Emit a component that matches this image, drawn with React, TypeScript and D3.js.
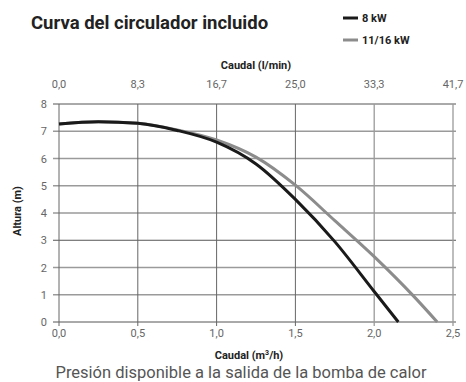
import * as d3 from "d3";

// flow in m³/h and head in m
const flow8 = [0, 0.25, 0.5, 0.75, 1.0, 1.25, 1.5, 1.75, 2.0, 2.153];
const head8 = [7.27, 7.35, 7.29, 7.03, 6.6, 5.8, 4.5, 2.95, 1.12, 0];

const flow16 = [0, 0.25, 0.5, 0.75, 1.0, 1.25, 1.5, 1.75, 2.0, 2.25, 2.4];
const head16 = [7.27, 7.35, 7.29, 7.05, 6.68, 6.05, 5.02, 3.72, 2.4, 0.95, 0];

const xTicks = [0, 0.5, 1.0, 1.5, 2.0, 2.5];
const topTicks = [0, 8.333, 16.667, 25, 33.333, 41.667];
const yTicks = [0, 1, 2, 3, 4, 5, 6, 7, 8];

const seriesNames = ["8 kW", "11/16 kW"];

const W = 466;
const H = 382;
const FONT = "Roboto, 'Noto Sans', sans-serif";

export default function App() {
  const x = d3.scaleLinear().domain([0, 2.5]).range([59, 453]);
  const xTop = d3.scaleLinear().domain([0, 41.667]).range([59, 453]);
  const y = d3.scaleLinear().domain([0, 8]).range([322, 104]);
  const fmt = (v: number) => d3.format(".1f")(v).replace(".", ",");

  const line = d3
    .line<[number, number]>()
    .x((d) => x(d[0]))
    .y((d) => y(d[1]))
    .curve(d3.curveMonotoneX);

  const pts8 = flow8.map((f, i) => [f, head8[i]] as [number, number]);
  const pts16 = flow16.map((f, i) => [f, head16[i]] as [number, number]);

  const darkRows = [0, 3, 8];
  const lightCols = [2.0, 2.5];

  return (
    <svg
      width={W}
      height={H}
      style={{ position: "absolute", left: 0, top: 0, background: "#fff" }}
      fontFamily={FONT}
    >
      <text x={31} y={29} fontSize={18.5} fontWeight={700} fill="#222">
        Curva del circulador incluido
      </text>

      {/* legend */}
      {seriesNames.map((n, i) => (
        <g key={n} transform={`translate(343,${18 + i * 22})`}>
          <line x1={0} x2={15} y1={0} y2={0} stroke={i === 0 ? "#1a1a1a" : "#8c8c8c"} strokeWidth={3} />
          <text x={19} y={4} fontSize={11} fontWeight={700} fill="#222">
            {n}
          </text>
        </g>
      ))}

      <text x={256} y={69} fontSize={11} fontWeight={700} fill="#222" textAnchor="middle">
        Caudal (l/min)
      </text>

      {topTicks.map((t) => (
        <text key={t} x={xTop(t)} y={88} fontSize={11} fill="#666" textAnchor="middle">
          {fmt(t)}
        </text>
      ))}

      {/* horizontal grid */}
      {yTicks.map((t) => (
        <g key={t}>
          <line
            x1={53}
            x2={456}
            y1={y(t)}
            y2={y(t)}
            stroke={darkRows.includes(t) ? "#555" : "#9a9a9a"}
            strokeWidth={darkRows.includes(t) ? 1 : 1.3}
          />
          <text x={47} y={y(t) + 4} fontSize={11} fill="#666" textAnchor="end">
            {t}
          </text>
        </g>
      ))}

      {/* vertical grid */}
      {xTicks.map((t) => (
        <g key={t}>
          <line
            x1={x(t)}
            x2={x(t)}
            y1={y(8)}
            y2={y(0) + 4}
            stroke={lightCols.includes(t) ? "#9a9a9a" : "#666"}
            strokeWidth={lightCols.includes(t) ? 1.3 : 1}
          />
          <text x={x(t)} y={337} fontSize={11} fill="#666" textAnchor="middle">
            {fmt(t)}
          </text>
        </g>
      ))}

      <path d={line(pts16) ?? ""} fill="none" stroke="#8c8c8c" strokeWidth={3} />
      <path d={line(pts8) ?? ""} fill="none" stroke="#1a1a1a" strokeWidth={3} />

      <text
        transform="translate(21,211) rotate(-90)"
        fontSize={11}
        fontWeight={700}
        fill="#222"
        textAnchor="middle"
      >
        Altura (m)
      </text>

      <text x={249} y={359} fontSize={11} fontWeight={700} fill="#222" textAnchor="middle">
        Caudal (m<tspan fontSize={7} dy={-4}>3</tspan>
        <tspan dy={4}>/h)</tspan>
      </text>

      <text x={241} y={378} fontSize={16.5} fill="#555" textAnchor="middle">
        Presión disponible a la salida de la bomba de calor
      </text>
    </svg>
  );
}
